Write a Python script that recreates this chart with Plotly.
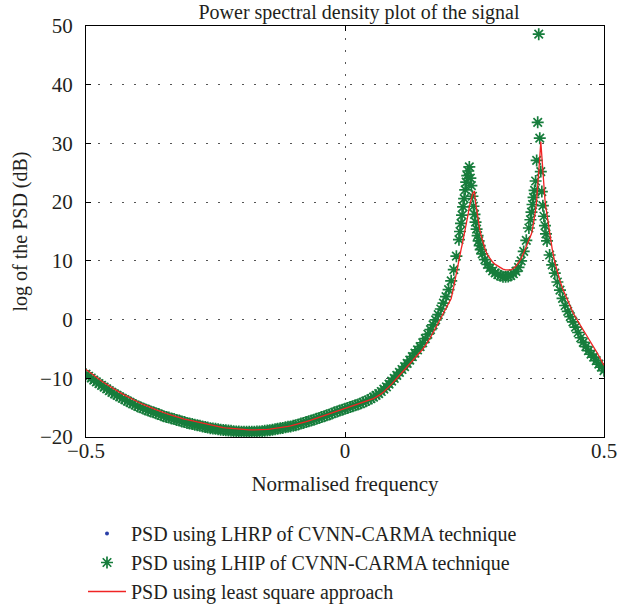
import numpy as np
import plotly.graph_objects as go

# ---- data ----
# frequency grid: coarse 0.005 steps, finer 0.002 steps around the two peaks
freq_seg1 = np.round(np.arange(-0.500, 0.2201, 0.005), 4)   # 145
freq_seg2 = np.round(np.arange(0.222, 0.2621, 0.002), 4)    # 21
freq_seg3 = np.round(np.arange(0.265, 0.3551, 0.005), 4)    # 19
freq_seg4 = np.round(np.arange(0.358, 0.3901, 0.002), 4)    # 17
freq_seg5 = np.round(np.arange(0.395, 0.5001, 0.005), 4)    # 22

lhip_seg1 = [
    -9.3, -9.65, -9.95, -10.3, -10.6, -10.9, -11.2, -11.5, -11.8, -12.1,
    -12.4, -12.65, -12.9, -13.15, -13.4, -13.65, -13.9, -14.1, -14.35, -14.55,
    -14.8, -14.95, -15.15, -15.3, -15.5, -15.65, -15.8, -15.95, -16.1, -16.3,
    -16.45, -16.6, -16.7, -16.85, -16.95, -17.1, -17.2, -17.35, -17.45, -17.6,
    -17.7, -17.8, -17.9, -18.0, -18.1, -18.2, -18.3, -18.4, -18.5, -18.55,
    -18.6, -18.7, -18.75, -18.8, -18.85, -18.9, -18.95, -19.0, -19.05, -19.05,
    -19.1, -19.1, -19.1, -19.1, -19.1, -19.1, -19.05, -19.05, -19.0, -18.95,
    -18.9, -18.85, -18.75, -18.7, -18.6, -18.5, -18.45, -18.35, -18.25, -18.2,
    -18.1, -18.0, -17.85, -17.7, -17.6, -17.45, -17.3, -17.2, -17.05, -16.9,
    -16.75, -16.6, -16.45, -16.3, -16.15, -16.0, -15.8, -15.65, -15.5, -15.35,
    -15.2, -15.05, -14.9, -14.75, -14.6, -14.45, -14.3, -14.1, -13.9, -13.7,
    -13.45, -13.2, -12.9, -12.6, -12.25, -11.85, -11.45, -11.0, -10.5, -10.0,
    -9.5, -9.0, -8.5, -8.0, -7.45, -6.9, -6.3, -5.7, -5.15, -4.6,
    -3.95, -3.25, -2.5, -1.7, -0.9, -0.05, 0.85, 1.8, 2.8, 3.9,
    5.1, 6.6, 8.5, 10.8, 13.6,
]
lhip_seg2 = [15.0, 16.4, 17.8, 19.2, 20.6, 22.1, 23.4, 24.5, 25.3, 26.0,
             24.1, 22.8, 21.0, 19.3, 17.9, 16.6, 15.4, 14.3, 13.4, 12.6, 11.9]
lhip_seg3 = [11.2, 10.2, 9.4, 8.8, 8.3, 7.95, 7.65, 7.45, 7.3, 7.3,
             7.35, 7.5, 7.8, 8.2, 8.9, 10.0, 11.6, 13.5, 15.6]
lhip_seg4 = [17.0, 18.3, 19.6, 20.8, 22.0, 23.6, 27.1, 33.6, 48.6, 30.9,
             25.2, 21.8, 19.4, 17.6, 16.0, 14.6, 13.4]
lhip_seg5 = [11.0, 9.3, 7.9, 6.4, 5.0, 3.6, 2.4, 1.4, 0.5, -0.4, -1.3,
             -2.2, -3.1, -3.9, -4.6, -5.3, -5.9, -6.4, -7.0, -7.6, -8.1, -8.7]

ls_seg1 = [
    -8.5, -8.85, -9.2, -9.5, -9.8, -10.1, -10.45, -10.75, -11.05, -11.35,
    -11.6, -11.9, -12.15, -12.4, -12.65, -12.9, -13.15, -13.4, -13.6, -13.85,
    -14.05, -14.25, -14.45, -14.65, -14.85, -15.0, -15.2, -15.35, -15.5, -15.7,
    -15.85, -16.0, -16.15, -16.3, -16.45, -16.55, -16.7, -16.8, -16.95, -17.05,
    -17.15, -17.3, -17.4, -17.5, -17.6, -17.7, -17.8, -17.9, -18.0, -18.1,
    -18.2, -18.25, -18.35, -18.4, -18.45, -18.5, -18.55, -18.6, -18.65, -18.7,
    -18.75, -18.75, -18.8, -18.8, -18.8, -18.8, -18.8, -18.8, -18.75, -18.75,
    -18.7, -18.65, -18.6, -18.55, -18.5, -18.45, -18.35, -18.3, -18.2, -18.1,
    -18.0, -17.9, -17.75, -17.65, -17.5, -17.4, -17.25, -17.1, -16.95, -16.8,
    -16.65, -16.5, -16.35, -16.2, -16.05, -15.9, -15.75, -15.6, -15.45, -15.3,
    -15.15, -15.0, -14.9, -14.75, -14.6, -14.45, -14.3, -14.15, -13.95, -13.8,
    -13.7, -13.45, -13.2, -12.95, -12.65, -12.3, -11.9, -11.45, -11.0, -10.5,
    -10.0, -9.5, -9.05, -8.6, -8.15, -7.65, -7.15, -6.6, -6.1, -5.6,
    -5.05, -4.45, -3.8, -3.05, -2.25, -1.45, -0.6, 0.25, 1.05, 1.85,
    2.6, 3.6, 5.6, 8.1, 10.2,
]
ls_seg2 = [11.0, 11.9, 12.7, 13.5, 14.4, 15.3, 16.2, 17.1, 18.1, 19.2,
           20.0, 20.7, 21.3, 21.7, 21.8, 20.0, 18.6, 17.4, 16.3, 15.4, 14.6]
ls_seg3 = [13.5, 12.1, 11.0, 10.3, 9.8, 9.4, 9.1, 8.8, 8.6, 8.45,
           8.4, 8.45, 8.7, 9.1, 9.7, 10.4, 11.4, 12.4, 13.5]
ls_seg4 = [13.9, 14.6, 15.4, 16.3, 17.4, 18.7, 20.3, 22.3, 24.8, 27.6,
           30.3, 27.3, 24.4, 22.2, 20.4, 19.0, 17.7]
ls_seg5 = [14.8, 12.0, 9.8, 8.0, 6.6, 5.3, 4.2, 3.2, 2.2, 1.2, 0.4,
           -0.4, -1.1, -1.8, -2.5, -3.3, -4.0, -4.7, -5.4, -6.2, -7.0, -7.8]

freq = np.concatenate([freq_seg1, freq_seg2, freq_seg3, freq_seg4, freq_seg5])
lhip_db = lhip_seg1 + lhip_seg2 + lhip_seg3 + lhip_seg4 + lhip_seg5
lhrp_db = lhip_db  # LHRP points lie underneath the LHIP stars
ls_db = ls_seg1 + ls_seg2 + ls_seg3 + ls_seg4 + ls_seg5

x_ticks = [-0.5, 0, 0.5]
x_tick_text = ["\u22120.5", "0", "0.5"]
y_ticks = [-20, -10, 0, 10, 20, 30, 40, 50]
y_tick_text = ["\u221220", "\u221210", "0", "10", "20", "30", "40", "50"]

names = ["PSD using LHRP of CVNN-CARMA technique",
         "PSD using LHIP of CVNN-CARMA technique",
         "PSD using least square approach"]
y_title = "log of the PSD (dB)"

FONT = "Liberation Serif"
TXT = "#231f20"
GREEN = "#177d3c"
BLUE = "#2a3fa8"
RED = "#f02424"

fig = go.Figure()
fig.add_trace(go.Scatter(x=freq, y=lhrp_db, mode="markers", name=names[0],
                         marker=dict(symbol="circle", size=4, color=BLUE)))
fig.add_trace(go.Scatter(x=freq, y=lhip_db, mode="markers", name=names[1],
                         marker=dict(symbol="asterisk-open", size=10, color=GREEN,
                                     line=dict(color=GREEN, width=1.7))))
fig.add_trace(go.Scatter(x=freq, y=ls_db, mode="lines", name=names[2],
                         line=dict(color=RED, width=1.3)))

axis_common = dict(showline=True, linecolor="black", linewidth=1, mirror="ticks",
                   ticks="inside", ticklen=5, tickcolor="black", zeroline=False,
                   showgrid=True, gridcolor="#555555", gridwidth=1,
                   griddash="2px,10px", automargin=False,
                   ticklabeloverflow="allow",
                   tickfont=dict(family=FONT, size=21, color=TXT))

fig.update_layout(
    width=619, height=607,
    margin=dict(l=86, r=15, t=26, b=170, autoexpand=False),
    paper_bgcolor="white", plot_bgcolor="white",
    font=dict(family=FONT, size=20, color=TXT),
    title=dict(text="Power spectral density plot of the signal",
               x=359 / 619, xref="container", xanchor="center",
               y=1 - 12 / 607, yref="container", yanchor="middle",
               font=dict(family=FONT, size=20, color=TXT)),
    xaxis=dict(range=[-0.5, 0.5], tickvals=x_ticks, ticktext=x_tick_text,
               ticklabelstandoff=-5,
               title=dict(text="Normalised frequency", standoff=14,
                          font=dict(family=FONT, size=21, color=TXT)),
               **axis_common),
    yaxis=dict(range=[-20, 50], tickvals=y_ticks, ticktext=y_tick_text,
               ticklabelstandoff=8, **axis_common),
    legend=dict(x=83 / 619, y=1 - 514 / 607, xref="container", yref="container",
                xanchor="left", yanchor="top",
                bgcolor="rgba(0,0,0,0)", font=dict(family=FONT, size=20, color=TXT),
                tracegroupgap=0, itemwidth=38),
    showlegend=True,
    annotations=[dict(text=y_title, textangle=-90, showarrow=False,
                      xref="paper", yref="paper", x=-66 / 518, y=0.5,
                      xanchor="center", yanchor="middle",
                      font=dict(family=FONT, size=20, color=TXT))],
)

fig.write_html("out.html", config={"displayModeBar": False},
               post_script="document.body.style.margin='0px';")
